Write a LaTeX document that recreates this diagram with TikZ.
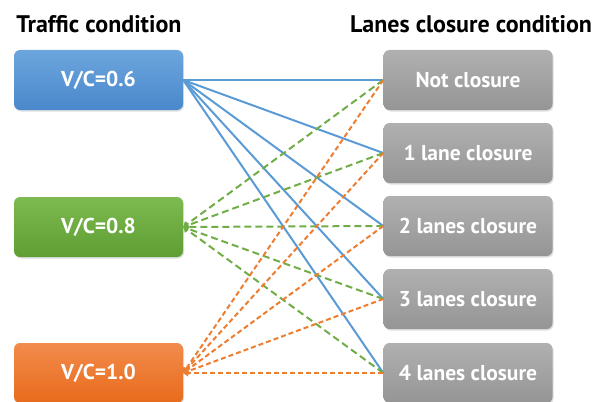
\documentclass[tikz,border=0pt]{standalone}
\usepackage{fontspec}
\setmainfont{PT Sans}
\usetikzlibrary{arrows.meta,shadows}
\definecolor{cblue}{HTML}{5B9BD5}
\definecolor{cgreen}{HTML}{70AD47}
\definecolor{corange}{HTML}{ED7D31}
\definecolor{bluetop}{HTML}{6CA6DE}
\definecolor{bluebot}{HTML}{4A88CB}
\definecolor{greentop}{HTML}{7DBA50}
\definecolor{greenbot}{HTML}{5E9E33}
\definecolor{orangetop}{HTML}{F28B4C}
\definecolor{orangebot}{HTML}{E86B1B}
\definecolor{graytop}{HTML}{B0B0B0}
\definecolor{graybot}{HTML}{959595}
\tikzset{
  box/.style={rounded corners=6pt, minimum width=169pt, minimum height=60pt,
    text=white, font=\bfseries\fontsize{21.5}{21.5}\selectfont, inner sep=0pt,
    drop shadow={shadow xshift=1pt, shadow yshift=-1.5pt, opacity=0.25}},
  bluebox/.style={box, top color=bluetop, bottom color=bluebot},
  greenbox/.style={box, top color=greentop, bottom color=greenbot},
  orangebox/.style={box, top color=orangetop, bottom color=orangebot},
  graybox/.style={box, top color=graytop, bottom color=graybot},
  title/.style={font=\bfseries\fontsize{24}{24}\selectfont, text=black, inner sep=0pt},
  bl/.style={draw=cblue, line width=2pt},
  gl/.style={draw=cgreen, line width=2pt, dash pattern=on 7pt off 4pt, -{Triangle[length=5pt,width=7pt]}},
  ol/.style={draw=corange, line width=2pt, dash pattern=on 5pt off 3pt, -{Triangle[length=5pt,width=7pt]}},
}
\begin{document}
\begin{tikzpicture}[x=1pt,y=-1pt]
\useasboundingbox (0,0) rectangle (604,401);
\clip (0,0) rectangle (604,401);
\node[title] (t1) at (99,24) {Traffic condition};
\node[title] (t2) at (471,24) {Lanes closure condition};
\node[bluebox] (b) at (98.5,80) {V/C=0.6};
\node[greenbox] (g) at (98.5,227) {V/C=0.8};
\node[orangebox] (o) at (98.5,373) {V/C=1.0};
\node[graybox] (r0) at (468,80) {Not closure};
\node[graybox] (r1) at (468,153) {1 lane closure};
\node[graybox] (r2) at (468,226) {2 lanes closure};
\node[graybox] (r3) at (468,299) {3 lanes closure};
\node[graybox] (r4) at (468,373) {4 lanes closure};
\foreach \r in {r0,r1,r2,r3,r4}{
  \draw[bl] (b.east) -- (\r.west);
}
\foreach \r in {r0,r1,r2,r3,r4}{
  \draw[gl] (\r.west) -- (g.east);
}
\foreach \r in {r0,r1,r2,r3,r4}{
  \draw[ol] (\r.west) -- (o.east);
}
\end{tikzpicture}
\end{document}
